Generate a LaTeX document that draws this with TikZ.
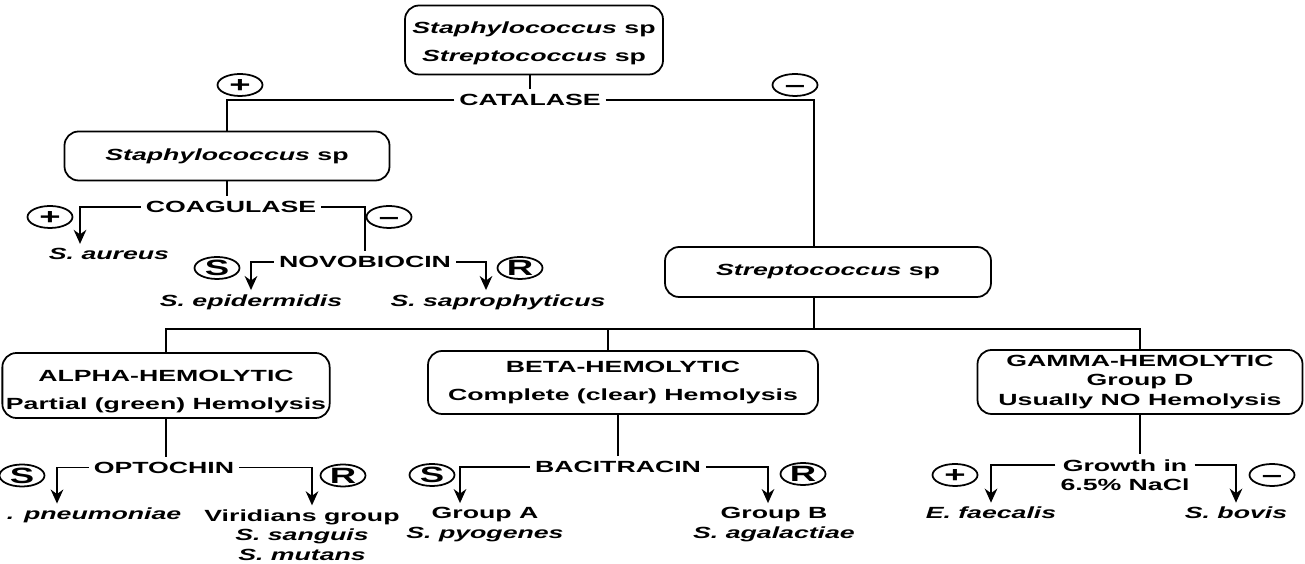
\documentclass[tikz,border=0pt]{standalone}
\usepackage{fontspec}
\setmainfont[FakeStretch=1.65]{Liberation Sans}
\usepackage{tikz}
\usetikzlibrary{arrows.meta,shapes.geometric,positioning}
\tikzset{
  every picture/.style = {
    line width = 0.5pt,
    >={Stealth[length=4pt,width=3.6pt]},
    on grid,
    font = \fontsize{4.6}{5.5}\selectfont\bfseries
  }
  ,
  taxon/.style = {
    rectangle,
    rounded corners = 4pt,
    draw,
    align = center,
    inner sep = 1pt
  }
  , % two lines set wider apart
  taxon-spaced/.style = {
    taxon,
    font = \fontsize{4.6}{7.9}\selectfont\bfseries
  }
  , % names of tests
  label-test/.style = {
    inner sep = 1.2pt,
    align = center
  }
  , % results in ellipses
  label-result/.style = {
    ellipse,
    draw,
    inner sep = 0pt,
    font = \fontsize{6.3}{6.3}\selectfont\bfseries,
    text height = 4.4pt,
    text depth = 0pt,
    minimum width = 0.45cm,
    minimum height = 0.22cm
  }
  , % species at the leaves
  label-species/.style = {
    inner sep = 1pt,
    align = center
  }
}

\begin{document}
\begin{tikzpicture}
  \useasboundingbox (0,0) rectangle (13.05,-5.64);
  % catalase
  \node [taxon-spaced, text height = 13.1pt, minimum width = 2.58cm, minimum height = 0.69cm] (root) at (5.34,-0.40)
    {\textit{Staphylococcus} sp\\\textit{Streptococcus} sp};
  \node [label-test, below left = 0.60cm and 0.04cm of root] (catalase) {CATALASE};
  \node [taxon, minimum width = 3.25cm, minimum height = 0.49cm,
         below left = 0.56cm and 3.03cm of catalase] (staph) {\textit{Staphylococcus} sp};
  \node [taxon, minimum width = 3.26cm, minimum height = 0.50cm,
         below right = 1.72cm and 2.98cm of catalase] (strep) {\textit{Streptococcus} sp};
  \node [label-result, above right = 0.71cm and 0.13cm of staph] (pos-cat) {+};
  \node [label-result, above left = 1.87cm and 0.33cm of strep] (neg-cat) {--};
  % coagulase, novobiocin
  \node [label-test, below right = 0.51cm and 0.04cm of staph] (coag) {COAGULASE};
  \node [label-result, below left = 0.10cm and 1.81cm of coag] (pos-coag) {+};
  \node [label-result, below right = 0.10cm and 1.58cm of coag] (neg-coag) {--};
  \node [label-species, below left = 0.47cm and 1.22cm of coag] (aureus) {\textit{S. aureus}};
  \node [label-test, below right = 0.55cm and 1.34cm of coag] (novo) {NOVOBIOCIN};
  \node [label-result, below left = 0.06cm and 1.48cm of novo] (sens-novo) {S};
  \node [label-result, below right = 0.06cm and 1.55cm of novo] (res-novo) {R};
  \node [label-species, below left = 0.40cm and 1.14cm of novo] (epid) {\textit{S. epidermidis}};
  \node [label-species, below right = 0.40cm and 1.33cm of novo] (sapro) {\textit{S. saprophyticus}};
  % hemolysis
  \coordinate [below left = 0.57cm and 0.14cm of strep] (hemolysis);
  \node [taxon-spaced, text height = 14.5pt, minimum width = 3.17cm, minimum height = 0.65cm,
         below left = 1.135cm and 6.62cm of strep] (alpha)
    {ALPHA-HEMOLYTIC\\Partial (green) Hemolysis};
  \node [taxon-spaced, minimum width = 3.90cm, minimum height = 0.63cm,
         below left = 1.105cm and 2.05cm of strep] (beta)
    {BETA-HEMOLYTIC\\Complete (clear) Hemolysis};
  \node [taxon, minimum width = 3.25cm, minimum height = 0.64cm,
         below right = 1.10cm and 3.12cm of strep] (gamma)
    {GAMMA-HEMOLYTIC\\Group D\\Usually NO Hemolysis};
  % optochin
  \node [label-test, below left = 0.82cm and 0.02cm of alpha] (opto) {OPTOCHIN};
  \node [label-result, below left = 0.08cm and 1.42cm of opto] (sens-opto) {S};
  \node [label-result, below right = 0.08cm and 1.79cm of opto] (res-opto) {R};
  \node [label-species, below left = 0.48cm and 0.70cm of opto] (pneum) {\textit{. pneumoniae}};
  \node [label-species, below right = 0.675cm and 1.38cm of opto] (virid)
    {Viridians group\\\textit{S. sanguis}\\\textit{S. mutans}};
  % bacitracin
  \node [label-test, below left = 0.845cm and 0.05cm of beta] (baci) {BACITRACIN};
  \node [label-result, below left = 0.08cm and 1.86cm of baci] (sens-baci) {S};
  \node [label-result, below right = 0.07cm and 1.85cm of baci] (res-baci) {R};
  \node [label-species, below left = 0.575cm and 1.33cm of baci] (groupa) {Group A\\\textit{S. pyogenes}};
  \node [label-species, below right = 0.575cm and 1.56cm of baci] (groupb) {Group B\\\textit{S. agalactiae}};
  % salt
  \node [label-test, below left = 0.93cm and 0.15cm of gamma] (growth) {Growth in\\6.5\% NaCl};
  \node [label-result, left = 1.70cm of growth] (pos-nacl) {+};
  \node [label-result, right = 1.47cm of growth] (neg-nacl) {--};
  \node [label-species, below left = 0.38cm and 1.34cm of growth] (faecalis) {\textit{E. faecalis}};
  \node [label-species, below right = 0.38cm and 1.11cm of growth] (bovis) {\textit{S. bovis}};

  \draw (catalase.north |- root.south) -- (catalase.north);
  \draw (catalase.west) -| (staph.north);
  \draw (catalase.east) -| ([xshift=-0.14cm]strep.north);
  \draw (staph.south) -- (staph.south |- coag.north);
  \draw [->] (coag.west) -| ([xshift=-0.29cm]aureus.north);
  \draw (coag.east) -| (novo.north);
  \draw [->] (novo.west) -| (epid.north);
  \draw [->] (novo.east) -| ([xshift=-0.12cm]sapro.north);
  \draw ([xshift=-0.14cm]strep.south) -- (hemolysis);
  \draw (alpha.north) |- (hemolysis) -| (gamma.north);
  \draw ([xshift=-0.15cm]beta.north) -- ([xshift=-0.15cm]beta.north |- hemolysis);
  \draw (alpha.south) -- (alpha.south |- opto.north);
  \draw (baci.north) -- (baci.north |- beta.south);
  \draw (gamma.south) -- (gamma.south |- growth.north);
  \draw [->] (opto.west) -| ([xshift=-0.37cm]pneum.north);
  \draw [->] (opto.east) -| ([xshift=0.10cm]virid.north);
  \draw [->] (baci.west) -| ([xshift=-0.25cm]groupa.north);
  \draw [->] (baci.east) -| ([xshift=-0.06cm]groupb.north);
  \draw [->] ([yshift=0.1cm]growth.west) -| (faecalis.north);
  \draw [->] ([yshift=0.1cm]growth.east) -| (bovis.north);
\end{tikzpicture}
\end{document}
